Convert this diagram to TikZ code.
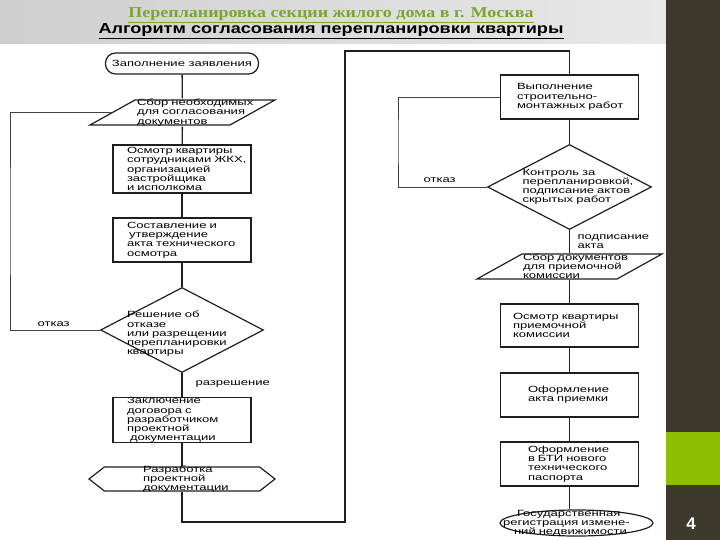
\documentclass[tikz,border=0pt]{standalone}
\usepackage{fontspec}
\setmainfont{Liberation Sans}
\newfontfamily\flowfont[FakeStretch=1.45]{Liberation Sans}
\newfontfamily\headfont[FakeStretch=1.2]{Liberation Serif}
\newfontfamily\subfont[FakeStretch=1.25]{Liberation Sans}
\usetikzlibrary{shapes.geometric, shapes.symbols}
\definecolor{cgreen}{HTML}{7BA62C}
\definecolor{clime}{HTML}{8DBE00}
\definecolor{cdark}{HTML}{3D3A2C}
\definecolor{cline}{HTML}{1E1E1E}
\tikzset{
  every picture/.style={x=1pt, y=-1pt, line width=1.2pt},
  txt/.style={font=\flowfont\fontsize{9}{9.2}\selectfont, align=left, inner sep=0pt},
  box/.style={txt, draw=cline, minimum width=138, minimum height=44},
  start/.style={txt, draw=cline, rounded corners=10pt, align=center},
  datain/.style={txt, minimum width=140, minimum height=25},
  decision/.style={draw=cline, diamond, inner sep=0pt, minimum width=163, minimum height=85},
  prep/.style={draw=cline, signal, signal to=east and west, signal pointer angle=76,
    inner sep=0pt, minimum width=186, minimum height=24},
  finish/.style={draw=cline, ellipse, inner sep=0pt, minimum width=153, minimum height=26},
}
% parallelogram round a datain node
\newcommand\slantframe[1]{\draw[cline] (#1.center) ++(-92.5,12.5) -- ++(140,0) -- ++(45,-25) -- ++(-140,0) -- cycle;}

\begin{document}
\begin{tikzpicture}[flowline/.style={draw=cline, line width=1.3pt},
    loopline/.style={draw=cline!85, line width=0.7pt}]
  \useasboundingbox (0,0) rectangle (720,540);
  % slide frame
  \shade[left color=black!19, middle color=white, right color=black!9] (0,0) rectangle (666,44);
  \fill[cdark] (666,0) rectangle (720,540);
  \fill[clime] (666,432) rectangle (720,485);
  \node[font=\bfseries\fontsize{17}{17}\selectfont, text=white] (num) at (691,524) {4};
  \node[font=\headfont\bfseries\fontsize{15}{15}\selectfont, text=cgreen] (title) at (331,15)
    {\underline{Перепланировка секции жилого дома в г. Москва}};
  \node[font=\subfont\bfseries\fontsize{14.5}{14.5}\selectfont] (subtitle) at (331,31)
    {\underline{Алгоритм согласования перепланировки квартиры}};
  % left column
  \node[start, minimum width=153, minimum height=21] (zayav) at (182,63.5) {Заполнение~заявления};
  \node[datain, text width=91] (sborA) at (182.5,112.5) {Сбор~необходимых\\для~согласования\\документов};
  \slantframe{sborA}
  \node[box, text width=110, minimum height=48] (osmA) at (182,169)
    {Осмотр~квартиры\\сотрудниками~ЖКХ,\\организацией\\застройщика\\и~исполкома};
  \node[box, text width=110] (sostA) at (182,240)
    {Составление~и\\\hspace*{2pt}утверждение\\акта~технического\\осмотра};
  \node[decision, label={[txt, text width=110, yshift=-4]center:{Решение~об\\отказе\\или~разрещении\\перепланировки\\квартиры}}] (reshA) at (182,330) {};
  \node[box, text width=110] (zaklA) at (182,420)
    {Заключение\\договора~с\\разработчиком\\проектной\\\hspace*{3pt}документации};
  \node[prep, label={[txt, text width=78]center:{Разработка\\проектной\\документации}}] (razrA) at (182,479) {};
  % right column
  \node[box, text width=105] (vyp) at (569.5,97)
    {Выполнение\\строительно-\\монтажных~работ};
  \node[decision, minimum width=164, label={[txt, text width=94]center:{Контроль~за\\перепланировкой,\\подписание~актов\\скрытых~работ}}] (kontr) at (569.5,187) {};
  \node[datain, text width=93] (sborB) at (569.5,266.5) {Сбор~документов\\для~приемочной\\комиссии};
  \slantframe{sborB}
  \node[box, text width=113, minimum height=43] (osmB) at (569.5,325.5)
    {Осмотр~квартиры\\приемочной\\комиссии};
  \node[box, text width=83] (ofA) at (569.5,395) {Оформление\\акта~приемки};
  \node[box, text width=83] (ofB) at (569.5,464)
    {Оформление\\в~БТИ~нового\\технического\\паспорта};
  \node[finish, label={[txt, text width=147]center:{\hspace*{14pt}Государственная\\регистрация~измене-\\\hspace*{11pt}ний~недвижимости}}] (gos) at (576.5,523) {};
  % branch labels
  \node[txt, anchor=west] (otkA) at (37,324) {отказ};
  \node[txt, anchor=west] (razresh) at (195,384) {разрешение};
  \node[txt, anchor=west] (otkB) at (423,180) {отказ};
  \node[txt, anchor=north west] (podp) at (577,234) {подписание\\акта};
  % main flow
  \draw[flowline] (zayav) -- (sborA);
  \draw[flowline] (sborA) -- (osmA);
  \draw[flowline] (osmA) -- (sostA);
  \draw[flowline] (sostA) -- (reshA);
  \draw[flowline] (reshA) -- (zaklA);
  \draw[flowline] (zaklA) -- (razrA);
  \coordinate (turnA) at (345,522);
  \coordinate (turnB) at (345,51);
  \draw[flowline] (razrA.south) |- (turnA) -- (turnB) -| (vyp.north);
  \draw[flowline] (vyp) -- (kontr);
  \draw[flowline] (kontr) -- (sborB);
  \draw[flowline] (sborB) -- (osmB);
  \draw[flowline] (osmB) -- (ofA);
  \draw[flowline] (ofA) -- (ofB);
  \draw[flowline] (ofB.south) -- (ofB.south |- gos.north);
  % refusal loops
  \coordinate (backA) at (10,220);
  \coordinate (backB) at (398,140);
  \draw[loopline] (reshA.west) -| (backA) |- (sborA.west);
  \draw[loopline] (kontr.west) -| (backB) |- (vyp.west);
\end{tikzpicture}
\end{document}
